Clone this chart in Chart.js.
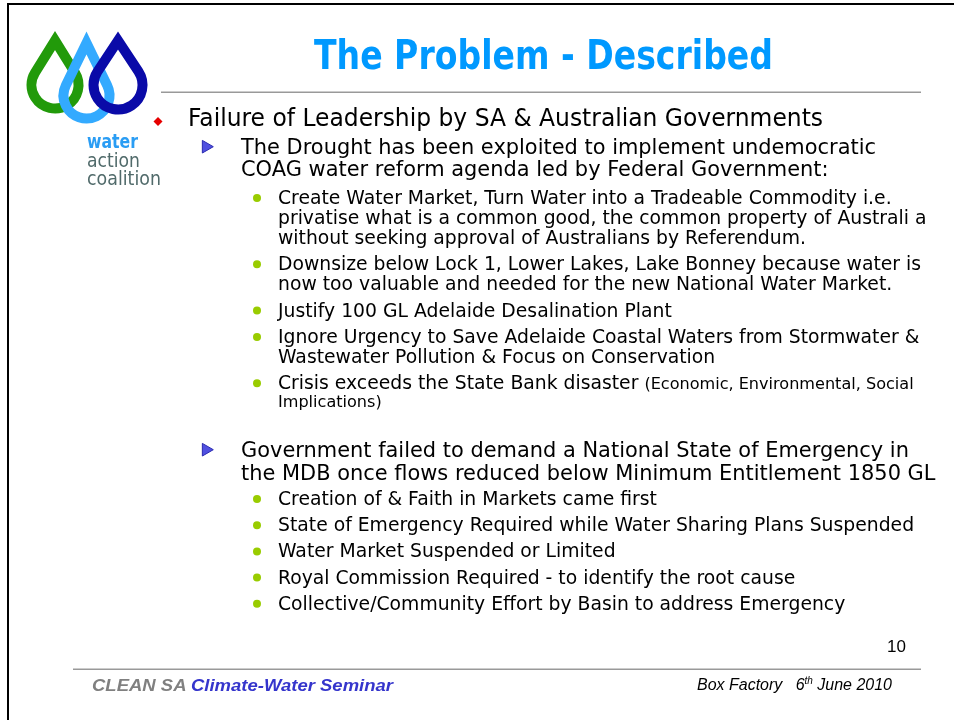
<!DOCTYPE html>
<html>
<head>
<meta charset="utf-8">
<script src="https://cdn.jsdelivr.net/npm/chart.js@4.4.1/dist/chart.umd.min.js"></script>
<style>
    html, body { margin: 0; padding: 0; background: #fff; }
    #slide { position: relative; width: 954px; height: 720px; overflow: hidden; }
    #c { position: absolute; left: 0; top: 0; }
    .t { position: absolute; left: 0; top: 0; white-space: pre; transform-origin: 0 0; line-height: 1; color: #000; font-family: "DejaVu Sans", sans-serif; }
    .mk { display: inline-block; width: 0; height: 0; }
</style>
</head>
<body>
<div id="slide"><canvas id="c" width="954" height="720"></canvas></div>
<script>
// slide text
const titleText = 'The Problem - Described';
const leadItems = ['Failure of Leadership by SA & Australian Governments'];
const point1Lines = [
    'The Drought has been exploited to implement undemocratic',
    'COAG water reform agenda led by Federal Government:'
];
const point1Subs = [
    ['Create Water Market, Turn Water into a Tradeable Commodity i.e.',
     'privatise what is a common good, the common property of Australi a',
     'without seeking approval of Australians by Referendum.'],
    ['Downsize below Lock 1, Lower Lakes, Lake Bonney because water is',
     'now too valuable and needed for the new National Water Market.'],
    ['Justify 100 GL Adelaide Desalination Plant'],
    ['Ignore Urgency to Save Adelaide Coastal Waters from Stormwater &',
     'Wastewater Pollution & Focus on Conservation'],
    ['Crisis exceeds the State Bank disaster {(Economic, Environmental, Social}',
     '{Implications)}']
];
const point2Lines = [
    'Government failed to demand a National State of Emergency in',
    'the MDB once flows reduced below Minimum Entitlement 1850 GL'
];
const point2Subs = [
    ['Creation of & Faith in Markets came first'],
    ['State of Emergency Required while Water Sharing Plans Suspended'],
    ['Water Market Suspended or Limited'],
    ['Royal Commission Required - to identify the root cause'],
    ['Collective/Community Effort by Basin to address Emergency']
];
const logoWords = ['water', 'action', 'coalition'];
const footerLeft = ['CLEAN SA ', 'Climate-Water Seminar'];
const footerRight = ['Box Factory   6', 'th', ' June 2010'];
const pageNo = '10';

const slide = document.getElementById('slide');
const mctx = document.createElement('canvas').getContext('2d');

function fitScale(text, font, target) {
    mctx.font = font;
    return target / mctx.measureText(text).width;
}

// parts: [{text, css}] ; opts: {x, y (baseline), align, scale, width}
function addLine(parts, opts) {
    const d = document.createElement('div');
    d.className = 't';
    if (opts.css) Object.assign(d.style, opts.css);
    parts.forEach(p => {
        const s = document.createElement('span');
        s.textContent = p.text;
        if (p.css) Object.assign(s.style, p.css);
        d.appendChild(s);
    });
    const mk = document.createElement('span');
    mk.className = 'mk';
    d.appendChild(mk);
    slide.appendChild(d);
    const box = d.getBoundingClientRect();
    const w = box.width;
    const baseOff = mk.getBoundingClientRect().top - box.top;
    let s = opts.scale || (opts.width ? opts.width / w : 1);
    let left = opts.x;
    if (opts.align === 'center') left = opts.x - w * s / 2;
    if (opts.align === 'right') left = opts.x - w * s;
    d.style.left = left + 'px';
    d.style.top = (opts.y - baseOff) + 'px';
    d.style.transform = 'scaleX(' + s + ')';
}

// body text
const FS = { 1: 24, 2: 21.3, 3: 18.7, small: 16 };
const TX = { 1: 187.5, 2: 240.5, 3: 278 };
const BX = { 1: 158, 2: 207.5, 3: 257 };
const scaleL = {
    1: fitScale(leadItems[0], FS[1] + 'px "DejaVu Sans"', 635),
    2: fitScale(point1Lines[0], FS[2] + 'px "DejaVu Sans"', 635),
    3: fitScale(point1Subs[1][0], FS[3] + 'px "DejaVu Sans"', 643)
};

function splitParts(str, lvl) {
    const out = [];
    str.split(/(\{[^}]*\})/).forEach(seg => {
        if (!seg) return;
        if (seg[0] === '{') out.push({ text: seg.slice(1, -1), css: { fontSize: FS.small + 'px' } });
        else out.push({ text: seg, css: { fontSize: FS[lvl] + 'px' } });
    });
    return out;
}

const rows = [];
let y = 126;
rows.push({ lvl: 1, text: leadItems[0], y: y, bullet: true });
y += 28;
point1Lines.forEach((t, i) => { if (i) y += 22; rows.push({ lvl: 2, text: t, y: y, bullet: i === 0 }); });
y += 28;
point1Subs.forEach((item, j) => {
    if (j) y += 26.3;
    item.forEach((t, i) => {
        if (i) y += (t[0] === '{' ? 18 : 20);
        rows.push({ lvl: 3, text: t, y: y, bullet: i === 0 });
    });
});
y += 49.8;
point2Lines.forEach((t, i) => { if (i) y += 23; rows.push({ lvl: 2, text: t, y: y, bullet: i === 0 }); });
y += 25;
point2Subs.forEach((item, j) => {
    if (j) y += 26.2;
    item.forEach((t, i) => { if (i) y += 20; rows.push({ lvl: 3, text: t, y: y, bullet: i === 0 }); });
});

rows.forEach(r => {
    addLine(splitParts(r.text, r.lvl), { x: TX[r.lvl], y: r.y, scale: scaleL[r.lvl] });
});

// title
addLine([{ text: titleText }], {
    x: 543.5, y: 69, align: 'center', width: 459,
    css: { fontSize: '41px', fontWeight: 'bold', color: '#0099ff' }
});

// logo words
const logoStyle = [
    { y: 148, w: 51, css: { fontSize: '19px', fontWeight: 'bold', color: '#2a9df4' } },
    { y: 167, w: 53, css: { fontSize: '19px', color: '#506a6a' } },
    { y: 185, w: 74, css: { fontSize: '19px', color: '#506a6a' } }
];
logoWords.forEach((t, i) => {
    addLine([{ text: t }], { x: 87, y: logoStyle[i].y, width: logoStyle[i].w, css: logoStyle[i].css });
});

// footer
addLine([
    { text: footerLeft[0], css: { color: '#808080' } },
    { text: footerLeft[1], css: { color: '#3535cc' } }
], {
    x: 92, y: 691, width: 301,
    css: { fontFamily: '"Liberation Sans", Arial, sans-serif', fontSize: '16.5px', fontWeight: 'bold', fontStyle: 'italic' }
});
addLine([
    { text: footerRight[0] },
    { text: footerRight[1], css: { fontSize: '10px', verticalAlign: '6px' } },
    { text: footerRight[2] }
], {
    x: 697, y: 690, width: 195,
    css: { fontFamily: '"Liberation Sans", Arial, sans-serif', fontSize: '16px', fontStyle: 'italic' }
});
addLine([{ text: pageNo }], {
    x: 906, y: 652, align: 'right',
    css: { fontFamily: '"Liberation Sans", Arial, sans-serif', fontSize: '17px' }
});

// bullets drawn as chart points
const diamonds = rows.filter(r => r.bullet && r.lvl === 1).map(r => ({ x: BX[1], y: r.y - 4.5 }));
const arrows = rows.filter(r => r.bullet && r.lvl === 2).map(r => ({ x: BX[2] - 1.5, y: r.y - 7.3 }));
const dots = rows.filter(r => r.bullet && r.lvl === 3).map(r => ({ x: BX[3], y: r.y - 6 }));

function drop(ctx, cx, cy, r, tipY, color) {
    const d = cy - tipY;
    const phi = Math.acos(r / d);
    ctx.beginPath();
    ctx.moveTo(cx, tipY);
    ctx.arc(cx, cy, r, -Math.PI / 2 + phi, 3 * Math.PI / 2 - phi, false);
    ctx.closePath();
    ctx.strokeStyle = color;
    ctx.stroke();
}

const decor = {
    id: 'decor',
    beforeDatasetsDraw(chart) {
        const ctx = chart.ctx;
        ctx.save();
        // frame
        ctx.fillStyle = '#000';
        ctx.fillRect(7, 3, 947, 2);
        ctx.fillRect(7, 3, 2, 717);
        // rules
        ctx.fillStyle = '#999';
        ctx.fillRect(161, 91.5, 760, 1.5);
        ctx.fillRect(73, 668.5, 848, 1.5);
        // logo drops
        ctx.lineWidth = 10;
        ctx.lineJoin = 'miter';
        ctx.miterLimit = 10;
        drop(ctx, 55, 85, 23.5, 40.5, '#229a0a');
        drop(ctx, 86.5, 95.5, 23, 43, '#33aaff');
        drop(ctx, 118, 85, 24.5, 40.5, '#0a0aa8');
        ctx.restore();
    }
};

new Chart(document.getElementById('c'), {
    type: 'scatter',
    data: {
        datasets: [
            { data: diamonds, pointStyle: 'rectRot', pointRadius: 4.5, pointBackgroundColor: '#e60000', pointBorderColor: '#e60000', pointBorderWidth: 0 },
            { data: arrows, pointStyle: 'triangle', pointRotation: 90, pointRadius: 7.3, pointBackgroundColor: '#5050e0', pointBorderColor: '#2a2ab0', pointBorderWidth: 1 },
            { data: dots, pointStyle: 'circle', pointRadius: 4, pointBackgroundColor: '#99cc00', pointBorderColor: '#99cc00', pointBorderWidth: 0 }
        ]
    },
    options: {
        responsive: false,
        animation: false,
        events: [],
        layout: { padding: 0, autoPadding: false },
        plugins: { legend: { display: false }, tooltip: { enabled: false } },
        scales: {
            x: { type: 'linear', min: 0, max: 954, display: false },
            y: { type: 'linear', min: 0, max: 720, reverse: true, display: false }
        }
    },
    plugins: [decor]
});
</script>
</body>
</html>
